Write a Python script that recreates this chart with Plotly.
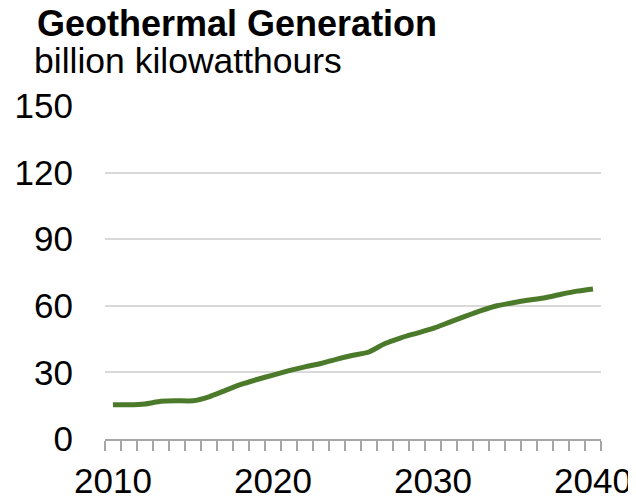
import plotly.graph_objects as go

years = list(range(2010, 2041))
generation = [15.4, 15.4, 15.8, 17.0, 17.2, 17.2, 19.0, 21.8, 24.6, 26.8,
              28.8, 30.8, 32.5, 34.0, 36.0, 37.7, 39.2, 43.0, 45.6, 47.7,
              49.8, 52.5, 55.2, 57.8, 60.0, 61.4, 62.6, 63.6, 65.2, 66.6, 67.6]
x_ticks = [2010, 2020, 2030, 2040]
y_ticks = [0, 30, 60, 90, 120, 150]

title_text = "Geothermal Generation"
subtitle_text = "billion kilowatthours"

FONT = "Liberation Sans, Arial, sans-serif"
# page body has an 8px margin, so the figure is 8px smaller and shifted
W, H = 628, 492
L, R, T, B = 97, 35, 97, 61

fig = go.Figure()
fig.add_trace(go.Scatter(
    x=years, y=generation, mode="lines",
    line=dict(color="#4B7A2B", width=5, shape="spline", smoothing=0.5),
    hoverinfo="x+y", showlegend=False,
))

pw = W - L - R
ph = H - T - B

def px_x(p):
    return (p - L) / pw

def px_y(p):
    return (H - B - p) / ph

fig.update_layout(
    width=W, height=H,
    margin=dict(l=L, r=R, t=T, b=B, pad=0),
    paper_bgcolor="white", plot_bgcolor="white",
    font=dict(family=FONT, size=35, color="black"),
    xaxis=dict(
        range=[2009.5, 2040.5], tickvals=x_ticks, ticktext=[str(v) for v in x_ticks],
        ticks="", showgrid=False, zeroline=False, automargin=False,
        showline=True, linecolor="#A6A6A6", linewidth=1.5,
        tickfont=dict(size=35), ticklabelstandoff=10,
        minor=dict(tick0=2009.5, dtick=1, ticks="outside", ticklen=10,
                   tickcolor="#A6A6A6", tickwidth=1.5, showgrid=False),
        fixedrange=True,
    ),
    yaxis=dict(
        range=[0, 150.45], tickvals=y_ticks, ticks="", automargin=False,
        showgrid=True, gridcolor="#D9D9D9", gridwidth=1.5,
        zeroline=False, showline=False,
        tickfont=dict(size=35), ticklabelstandoff=31,
        fixedrange=True,
    ),
    annotations=[
        dict(text="<b>" + title_text + "</b>", xref="paper", yref="paper",
             x=px_x(27), y=px_y(38), xanchor="left", yanchor="bottom",
             showarrow=False, font=dict(size=36, family=FONT, color="black")),
        dict(text=subtitle_text, xref="paper", yref="paper",
             x=px_x(24), y=px_y(75), xanchor="left", yanchor="bottom",
             showarrow=False, font=dict(size=35.5, family=FONT, color="black")),
    ],
)

fig.write_html("out.html")
